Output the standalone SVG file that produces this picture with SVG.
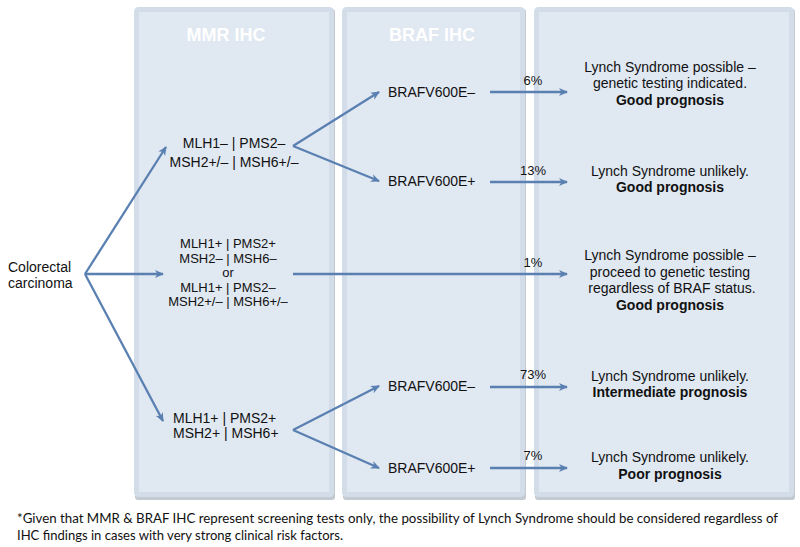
<svg xmlns="http://www.w3.org/2000/svg" width="800" height="547" viewBox="0 0 800 547">
<style>
  .panel{fill:#e0e8f1;stroke:#d3ddea;stroke-width:5}
  .shadow{fill:#c4cad2}
  .title{font-family:"Liberation Sans",Arial,sans-serif;font-size:18px;font-weight:bold;fill:#ffffff;text-anchor:middle}
  .t{font-family:"Liberation Sans",Arial,sans-serif;font-size:14px;fill:#111111}
  .s{font-size:13px}
  .c{text-anchor:middle}
  .b{font-weight:bold}
  .pct{font-family:"Liberation Sans",Arial,sans-serif;font-size:13px;fill:#111111;text-anchor:middle}
  .foot{font-family:Lato,"Open Sans",sans-serif;font-size:12.5px;fill:#111111}
  .conn line{stroke:#5a80b2;stroke-width:2.3;fill:none}
  .arr{marker-end:url(#ah)}
</style>
<defs>
  <marker id="ah" markerWidth="10" markerHeight="10" refX="8" refY="5" orient="auto" markerUnits="userSpaceOnUse">
    <path d="M0,1 L9,5 L0,9 L2.5,5 Z" fill="#5a80b2"/>
  </marker>
</defs>
<rect width="800" height="547" fill="#ffffff"/>
<g id="panels">
  <rect class="shadow" x="135" y="9" width="200" height="491" rx="3"/>
  <rect class="shadow" x="343" y="9" width="183" height="491" rx="3"/>
  <rect class="shadow" x="535" y="9" width="260" height="491" rx="3"/>
  <rect class="panel" x="136.5" y="9.5" width="195" height="485" rx="2"/>
  <rect class="panel" x="344.5" y="9.5" width="178" height="485" rx="2"/>
  <rect class="panel" x="536.5" y="9.5" width="255" height="485" rx="2"/>
  <text class="title" x="226" y="41">MMR IHC</text>
  <text class="title" x="432" y="41">BRAF IHC</text>
</g>
<g class="conn">
  <line class="arr" x1="85" y1="274" x2="166" y2="147"/>
  <line class="arr" x1="85" y1="274" x2="163" y2="274"/>
  <line class="arr" x1="85" y1="274" x2="163" y2="421"/>
  <line class="arr" x1="293" y1="146" x2="379" y2="92"/>
  <line class="arr" x1="293" y1="146" x2="379" y2="181"/>
  <line class="arr" x1="293" y1="430" x2="379" y2="386"/>
  <line class="arr" x1="293" y1="430" x2="379" y2="468"/>
  <line class="arr" x1="490" y1="92" x2="567" y2="92"/>
  <line class="arr" x1="490" y1="182" x2="567" y2="182"/>
  <line class="arr" x1="293" y1="274" x2="567" y2="274"/>
  <line class="arr" x1="490" y1="387" x2="567" y2="387"/>
  <line class="arr" x1="490" y1="468" x2="567" y2="468"/>
</g>
<g id="pcts">
  <text class="pct" x="533" y="85">6%</text>
  <text class="pct" x="533" y="175">13%</text>
  <text class="pct" x="533" y="267">1%</text>
  <text class="pct" x="533" y="379">73%</text>
  <text class="pct" x="533" y="460">7%</text>
</g>
<g id="start">
  <text class="t" x="8" y="272">Colorectal</text>
  <text class="t" x="8" y="288">carcinoma</text>
</g>
<g id="mmr-deficient">
  <text class="t c" x="234" y="148">MLH1– | PMS2–</text>
  <text class="t c" x="234" y="167">MSH2+/– | MSH6+/–</text>
</g>
<g id="mmr-other">
  <text class="t s c" x="228" y="248">MLH1+ | PMS2+</text>
  <text class="t s c" x="228" y="262.6">MSH2– | MSH6–</text>
  <text class="t s c" x="228" y="277.2">or</text>
  <text class="t s c" x="228" y="291.8">MLH1+ | PMS2–</text>
  <text class="t s c" x="228" y="306.4">MSH2+/– | MSH6+/–</text>
</g>
<g id="mmr-intact">
  <text class="t" x="173" y="423">MLH1+ | PMS2+</text>
  <text class="t" x="173" y="438">MSH2+ | MSH6+</text>
</g>
<g id="braf1neg"><text class="t" x="388" y="97">BRAFV600E–</text></g>
<g id="braf1pos"><text class="t" x="388" y="186">BRAFV600E+</text></g>
<g id="braf2neg"><text class="t" x="388" y="391">BRAFV600E–</text></g>
<g id="braf2pos"><text class="t" x="388" y="473">BRAFV600E+</text></g>
<g id="out1">
  <text class="t c" x="670" y="72">Lynch Syndrome possible –</text>
  <text class="t c" x="670" y="88">genetic testing indicated.</text>
  <text class="t c b" x="670" y="105">Good prognosis</text>
</g>
<g id="out2">
  <text class="t c" x="670" y="176">Lynch Syndrome unlikely.</text>
  <text class="t c b" x="670" y="192">Good prognosis</text>
</g>
<g id="out3">
  <text class="t c" x="670" y="260">Lynch Syndrome possible –</text>
  <text class="t c" x="670" y="277">proceed to genetic testing</text>
  <text class="t c" x="672" y="293">regardless of BRAF status.</text>
  <text class="t c b" x="670" y="310">Good prognosis</text>
</g>
<g id="out4">
  <text class="t c" x="670" y="381">Lynch Syndrome unlikely.</text>
  <text class="t c b" x="670" y="397">Intermediate prognosis</text>
</g>
<g id="out5">
  <text class="t c" x="670" y="462">Lynch Syndrome unlikely.</text>
  <text class="t c b" x="670" y="479">Poor prognosis</text>
</g>
<g id="footnote">
  <text class="foot" x="17" y="523" textLength="761" lengthAdjust="spacingAndGlyphs">*Given that MMR &amp; BRAF IHC represent screening tests only, the possibility of Lynch Syndrome should be considered regardless of</text>
  <text class="foot" x="17" y="540" textLength="326" lengthAdjust="spacingAndGlyphs">IHC findings in cases with very strong clinical risk factors.</text>
</g>
</svg>
